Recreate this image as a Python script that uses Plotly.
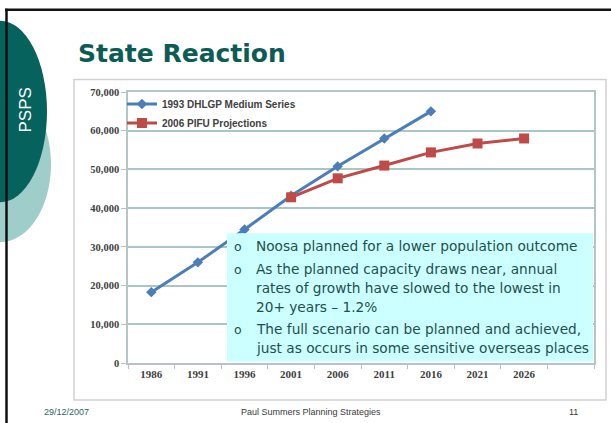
import plotly.graph_objects as go

# ---- data ----
years = [1986, 1991, 1996, 2001, 2006, 2011, 2016, 2021, 2026]
year_labels = ["1986", "1991", "1996", "2001", "2006", "2011", "2016", "2021", "2026"]
dhlgp_years = [1986, 1991, 1996, 2001, 2006, 2011, 2016]
dhlgp_values = [18300, 26000, 34500, 43200, 50800, 58000, 65000]
pifu_years = [2001, 2006, 2011, 2016, 2021, 2026]
pifu_values = [42800, 47700, 51000, 54400, 56700, 58000]
y_ticks = [0, 10000, 20000, 30000, 40000, 50000, 60000, 70000]
y_labels = ["0", "10,000", "20,000", "30,000", "40,000", "50,000", "60,000", "70,000"]
series_names = ["1993 DHLGP Medium Series", "2006 PIFU Projections"]
bullets = [
    ["Noosa planned for a lower population outcome"],
    ["As the planned capacity draws near, annual",
     "rates of growth have slowed to the lowest in",
     "20+ years \u2013 1.2%"],
    ["The full scenario can be planned and achieved,",
     "just as occurs in some sensitive overseas places"],
]

# ---- geometry (pixels) ----
W, H = 611, 423
PL, PR, PT, PB = 128, 594, 91.5, 363
def px(x):
    return (x - PL) / (PR - PL)
def py(y):
    return (PB - y) / (PB - PT)

TEAL_TEXT = "#1d4f4c"
CYAN = "#ccffff"
GRID = "#a9c5c5"

fig = go.Figure()
fig.add_trace(go.Scatter(
    x=dhlgp_years, y=dhlgp_values, name=series_names[0], mode="lines+markers",
    line=dict(color="#4a7ebb", width=3),
    marker=dict(symbol="diamond", size=8, color="#4a7ebb"),
))
fig.add_trace(go.Scatter(
    x=pifu_years, y=pifu_values, name=series_names[1], mode="lines+markers",
    line=dict(color="#be4b48", width=3),
    marker=dict(symbol="square", size=10, color="#be4b48"),
))

shapes = []
# chart frame (below plot background)
shapes.append(dict(type="rect", xref="paper", yref="paper", layer="below",
                   x0=px(74), x1=px(606), y0=py(400), y1=py(79),
                   fillcolor="white", line=dict(color="#d2d2d2", width=1.5)))
# text box covering gridlines
shapes.append(dict(type="rect", xref="paper", yref="paper", layer="above",
                   x0=px(227), x1=px(593), y0=py(361.5), y1=py(233),
                   fillcolor=CYAN, line=dict(width=0)))
# decorative ellipses
shapes.append(dict(type="circle", xref="paper", yref="paper", layer="above",
                   x0=px(-51), x1=px(51), y0=py(242), y1=py(86),
                   fillcolor="#9fcdca", line=dict(width=0)))
shapes.append(dict(type="circle", xref="paper", yref="paper", layer="above",
                   x0=px(-47), x1=px(47), y0=py(202), y1=py(20),
                   fillcolor="#05625c", line=dict(width=0)))
# slide border
shapes.append(dict(type="line", xref="paper", yref="paper", layer="above",
                   x0=px(5), x1=px(615), y0=py(9), y1=py(9),
                   line=dict(color="#111111", width=2.5)))
shapes.append(dict(type="line", xref="paper", yref="paper", layer="above",
                   x0=px(6.5), x1=px(6.5), y0=py(8), y1=py(430),
                   line=dict(color="#111111", width=2.5)))

annotations = []
annotations.append(dict(text="<b>State Reaction</b>", xref="paper", yref="paper",
                        x=px(76), y=py(53), xanchor="left", yanchor="middle", showarrow=False,
                        font=dict(family="DejaVu Sans", size=25, color="#0d5b55")))
annotations.append(dict(text="PSPS", xref="paper", yref="paper", textangle=-90,
                        x=px(25), y=py(110), xanchor="center", yanchor="middle", showarrow=False,
                        font=dict(family="Liberation Sans", size=17, color="white")))
# bullet text
line_y = [[246], [269, 288, 307], [329, 348]]
for para, ys in zip(bullets, line_y):
    annotations.append(dict(text="o", xref="paper", yref="paper", x=px(238), y=py(ys[0]),
                            xanchor="center", yanchor="middle", showarrow=False,
                            font=dict(family="DejaVu Sans", size=12.5, color=TEAL_TEXT)))
    for t, yy in zip(para, ys):
        annotations.append(dict(text=t, xref="paper", yref="paper", x=px(254), y=py(yy),
                                xanchor="left", yanchor="middle", showarrow=False,
                                font=dict(family="DejaVu Sans", size=13.7, color=TEAL_TEXT)))
# footer
annotations.append(dict(text="29/12/2007", xref="paper", yref="paper", x=px(42), y=py(412),
                        xanchor="left", yanchor="middle", showarrow=False,
                        font=dict(family="Liberation Sans", size=9, color="#2f6462")))
annotations.append(dict(text="Paul Summers Planning Strategies", xref="paper", yref="paper",
                        x=px(311), y=py(412), xanchor="center", yanchor="middle", showarrow=False,
                        font=dict(family="Liberation Sans", size=9, color="#3a3a3a")))
annotations.append(dict(text="11", xref="paper", yref="paper", x=px(573), y=py(412),
                        xanchor="center", yanchor="middle", showarrow=False,
                        font=dict(family="Liberation Sans", size=9, color="#3a3a3a")))

fig.update_layout(
    width=W, height=H,
    margin=dict(l=PL, r=W - PR, t=PT, b=H - PB, pad=0),
    paper_bgcolor="white", plot_bgcolor=CYAN,
    shapes=shapes, annotations=annotations,
    showlegend=True,
    legend=dict(x=px(122), y=py(89), xanchor="left", yanchor="top",
                bgcolor="rgba(0,0,0,0)", itemwidth=30, tracegroupgap=0,
                font=dict(family="Liberation Sans", size=10, color="#404040", weight="bold")),
    xaxis=dict(range=[1983.5, 2033.5], tickvals=years, ticktext=year_labels,
               showgrid=False, zeroline=False, ticks="outside", ticklen=0,
               showline=True, linecolor="#b5c5c5", linewidth=1.5, mirror=True,
               tickfont=dict(family="Liberation Serif", size=11, color="#404040", weight="bold"),
               minor=dict(tick0=1983.5, dtick=5, ticks="outside", ticklen=4,
                          tickcolor="#b5c5c5", showgrid=False),
               fixedrange=True),
    yaxis=dict(range=[0, 70000], tickvals=y_ticks, ticktext=y_labels,
               showgrid=True, gridcolor=GRID, gridwidth=1.5, zeroline=False,
               ticks="outside", ticklen=5, tickcolor="#b5c5c5",
               showline=True, linecolor="#b5c5c5", linewidth=1.5, mirror=True,
               tickfont=dict(family="Liberation Serif", size=10.5, color="#404040", weight="bold"),
               fixedrange=True),
)

fig.write_html("out.html", config={"displayModeBar": False},
               post_script="document.body.style.margin='0';document.body.style.overflow='hidden';")
